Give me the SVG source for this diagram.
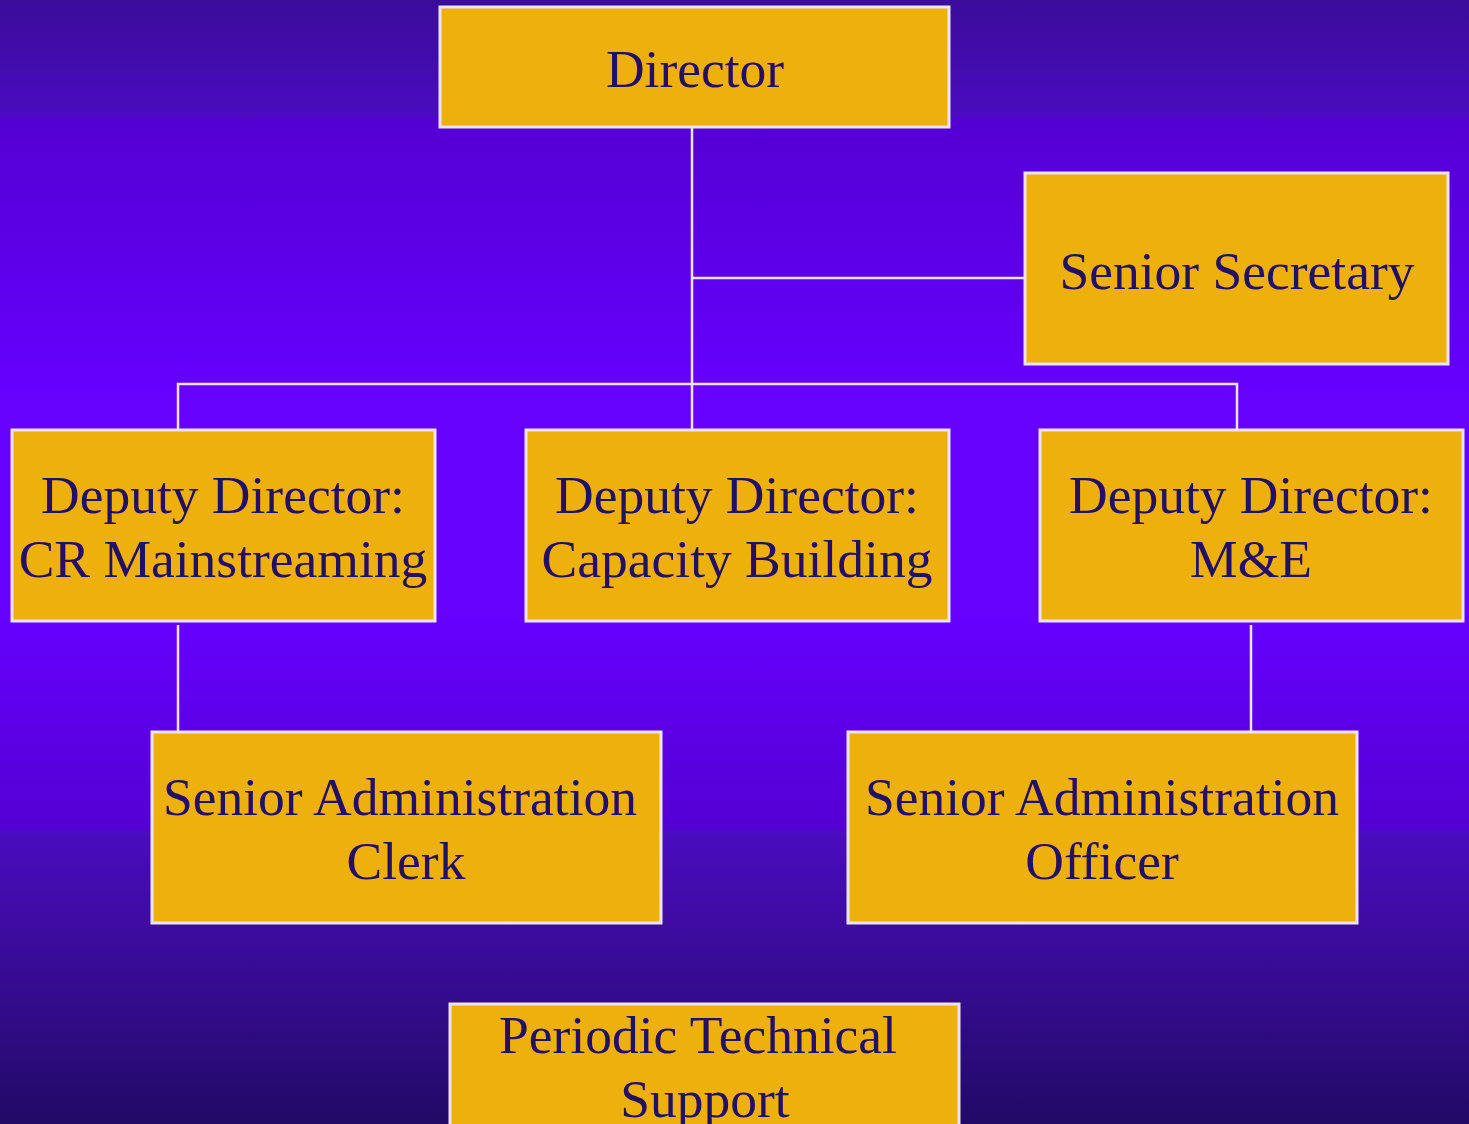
<svg xmlns="http://www.w3.org/2000/svg" width="1469" height="1124" viewBox="0 0 1469 1124">
<defs>
<linearGradient id="bg" x1="0" y1="0" x2="0" y2="1">
<stop offset="0" stop-color="#3a0c9a"/>
<stop offset="0.103" stop-color="#4a0cbf"/>
<stop offset="0.106" stop-color="#5400d2"/>
<stop offset="0.35" stop-color="#6600ff"/>
<stop offset="0.55" stop-color="#6600ff"/>
<stop offset="0.737" stop-color="#5400d2"/>
<stop offset="0.74" stop-color="#4a0cbf"/>
<stop offset="1" stop-color="#220a66"/>
</linearGradient>
</defs>
<style>
.box{fill:#edb00c;stroke:#ece4f4;stroke-width:3}
.t{font-family:"Liberation Serif","Times New Roman",serif;font-size:53.5px;fill:#230f66;text-anchor:middle}
.c{stroke:#ece4f4;stroke-width:2.5;fill:none}
</style>
<rect x="0" y="0" width="1469" height="1124" fill="url(#bg)"/>
<g id="connectors">
<line class="c" x1="692" y1="127" x2="692" y2="430"/>
<line class="c" x1="692" y1="278" x2="1025" y2="278"/>
<polyline class="c" points="178,430 178,384 1237,384 1237,430"/>
<line class="c" x1="178" y1="625" x2="178" y2="732"/>
<line class="c" x1="1251" y1="625" x2="1251" y2="732"/>
</g>
<g id="director">
<rect class="box" x="440" y="7" width="509" height="120"/>
<text class="t" x="695" y="87">Director</text>
</g>
<g id="senior-secretary">
<rect class="box" x="1025" y="173" width="423" height="191"/>
<text class="t" x="1237" y="289">Senior Secretary</text>
</g>
<g id="dd-cr">
<rect class="box" x="12" y="430" width="423" height="191"/>
<text class="t" x="223" y="513">Deputy Director:</text>
<text class="t" x="223" y="577">CR Mainstreaming</text>
</g>
<g id="dd-cb">
<rect class="box" x="526" y="430" width="423" height="191"/>
<text class="t" x="737" y="513">Deputy Director:</text>
<text class="t" x="737" y="577">Capacity Building</text>
</g>
<g id="dd-me">
<rect class="box" x="1040" y="430" width="423" height="191"/>
<text class="t" x="1251" y="513">Deputy Director:</text>
<text class="t" x="1251" y="577">M&amp;E</text>
</g>
<g id="sa-clerk">
<rect class="box" x="152" y="732" width="509" height="191"/>
<text class="t" x="400" y="815">Senior Administration</text>
<text class="t" x="406" y="879">Clerk</text>
</g>
<g id="sa-officer">
<rect class="box" x="848" y="732" width="509" height="191"/>
<text class="t" x="1102" y="815">Senior Administration</text>
<text class="t" x="1102" y="879">Officer</text>
</g>
<g id="pts">
<rect class="box" x="450" y="1004" width="509" height="140"/>
<text class="t" x="698" y="1053">Periodic Technical</text>
<text class="t" x="705" y="1117">Support</text>
</g>
</svg>
